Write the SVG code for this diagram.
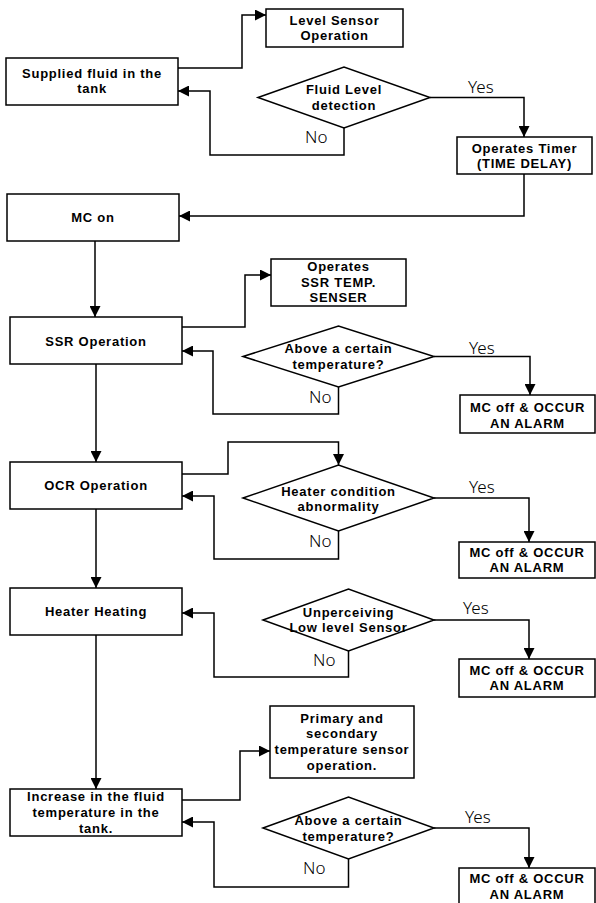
<svg xmlns="http://www.w3.org/2000/svg" width="596" height="903" viewBox="0 0 596 903">
<defs>
<style>
.box{fill:#fff;stroke:#000;stroke-width:1.5}
.t{font-family:"Liberation Sans",Arial,sans-serif;font-weight:bold;font-size:13px;letter-spacing:0.75px;text-anchor:middle;fill:#000}
.yn{font-family:"Noto Sans","Open Sans","DejaVu Sans",sans-serif;font-weight:300;font-size:17px;fill:#000}
.c{fill:none;stroke:#000;stroke-width:1.5;marker-end:url(#ah)}
</style>
<marker id="ah" markerUnits="userSpaceOnUse" markerWidth="11" markerHeight="11" refX="11" refY="5.5" orient="auto" viewBox="0 0 11 11">
<path d="M0,0 L11,5.5 L0,11 z" fill="#000"/>
</marker>
</defs>
<rect width="596" height="903" fill="#fff"/>
<g id="connectors">
<path class="c" d="M178,68 H242 V15 H266"/>
<path class="c" d="M344,128 V155 H210 V91 H178"/>
<path class="c" d="M430,97.5 H524 V137"/>
<path class="c" d="M524,174 V216 H179"/>
<path class="c" d="M95,241 V317"/>
<path class="c" d="M182,327 H245 V275 H271"/>
<path class="c" d="M338.5,387 V414 H213 V351 H182"/>
<path class="c" d="M434,356.5 H530 V395"/>
<path class="c" d="M96,364 V462"/>
<path class="c" d="M182,474 H228 V442 H338.5 V465"/>
<path class="c" d="M338.5,531 V559 H214 V496 H182"/>
<path class="c" d="M434,498 H529 V542"/>
<path class="c" d="M96,509 V588"/>
<path class="c" d="M348.5,651 V677 H214 V613 H182"/>
<path class="c" d="M434,620 H529 V659"/>
<path class="c" d="M96,635 V789"/>
<path class="c" d="M182,800 H240 V751 H270"/>
<path class="c" d="M348.5,859 V887 H214 V822 H182"/>
<path class="c" d="M434,828 H529 V868"/>
</g>
<g id="supplied"><rect class="box" x="6" y="58" width="172" height="47"/><text class="t" x="92" y="77.5">Supplied fluid in the</text><text class="t" x="92" y="92.5">tank</text></g>
<g id="levelsensor"><rect class="box" x="266" y="9" width="137" height="38"/><text class="t" x="334.5" y="24.5">Level Sensor</text><text class="t" x="334.5" y="39.5">Operation</text></g>
<g id="d1"><polygon class="box" points="258,97.5 344,67 430,97.5 344,128"/><text class="t" x="344" y="93.5">Fluid Level</text><text class="t" x="344" y="109.5">detection</text><text class="yn" x="468" y="93">Yes</text><text class="yn" x="305" y="143">No</text></g>
<g id="timer"><rect class="box" x="457" y="137" width="135" height="37"/><text class="t" x="524.5" y="152.5">Operates Timer</text><text class="t" x="524.5" y="168">(TIME DELAY)</text></g>
<g id="mcon"><rect class="box" x="7" y="194" width="172" height="47"/><text class="t" x="93" y="221.5">MC on</text></g>
<g id="ssr"><rect class="box" x="10" y="317" width="172" height="47"/><text class="t" x="96" y="345.5">SSR Operation</text></g>
<g id="ssrtemp"><rect class="box" x="271" y="259" width="135" height="47"/><text class="t" x="338.5" y="270.5">Operates</text><text class="t" x="338.5" y="286.5">SSR TEMP.</text><text class="t" x="338.5" y="301.5">SENSER</text></g>
<g id="d2"><polygon class="box" points="243,356.5 338.5,326 434,356.5 338.5,387"/><text class="t" x="338.5" y="352.5">Above a certain</text><text class="t" x="338.5" y="368.5">temperature?</text><text class="yn" x="469" y="354">Yes</text><text class="yn" x="309" y="403">No</text></g>
<g id="alarm1"><rect class="box" x="460" y="395" width="135" height="38"/><text class="t" x="527.5" y="411.5">MC off &amp; OCCUR</text><text class="t" x="527.5" y="427.5">AN ALARM</text></g>
<g id="ocr"><rect class="box" x="10" y="462" width="172" height="47"/><text class="t" x="96" y="489.5">OCR Operation</text></g>
<g id="d3"><polygon class="box" points="243,498 338.5,465 434,498 338.5,531"/><text class="t" x="338.5" y="495.5">Heater condition</text><text class="t" x="338.5" y="511">abnormality</text><text class="yn" x="469" y="493">Yes</text><text class="yn" x="309" y="547">No</text></g>
<g id="alarm2"><rect class="box" x="459" y="542" width="136" height="36"/><text class="t" x="527" y="556.5">MC off &amp; OCCUR</text><text class="t" x="527" y="571.5">AN ALARM</text></g>
<g id="heater"><rect class="box" x="10" y="588" width="172" height="47"/><text class="t" x="96" y="615.5">Heater Heating</text></g>
<g id="d4"><polygon class="box" points="263,620 348.5,589 434,620 348.5,651"/><text class="t" x="348.5" y="617">Unperceiving</text><text class="t" x="348.5" y="632">Low level Sensor</text><text class="yn" x="463" y="614">Yes</text><text class="yn" x="313" y="666">No</text></g>
<g id="alarm3"><rect class="box" x="459" y="659" width="136" height="38"/><text class="t" x="527" y="674.5">MC off &amp; OCCUR</text><text class="t" x="527" y="689.5">AN ALARM</text></g>
<g id="primary"><rect class="box" x="270" y="706" width="144" height="72"/><text class="t" x="342" y="722.5">Primary and</text><text class="t" x="342" y="737.5">secondary</text><text class="t" x="342" y="753.5">temperature sensor</text><text class="t" x="342" y="769.5">operation.</text></g>
<g id="increase"><rect class="box" x="10" y="789" width="172" height="47"/><text class="t" x="96" y="800.5">Increase in the fluid</text><text class="t" x="96" y="816.5">temperature in the</text><text class="t" x="96" y="832.5">tank.</text></g>
<g id="d5"><polygon class="box" points="263,828 348.5,797 434,828 348.5,859"/><text class="t" x="348.5" y="824.5">Above a certain</text><text class="t" x="348.5" y="840.5">temperature?</text><text class="yn" x="465" y="823">Yes</text><text class="yn" x="303" y="874">No</text></g>
<g id="alarm4"><rect class="box" x="459" y="868" width="136" height="38"/><text class="t" x="527" y="882.5">MC off &amp; OCCUR</text><text class="t" x="527" y="898.5">AN ALARM</text></g>
</svg>
